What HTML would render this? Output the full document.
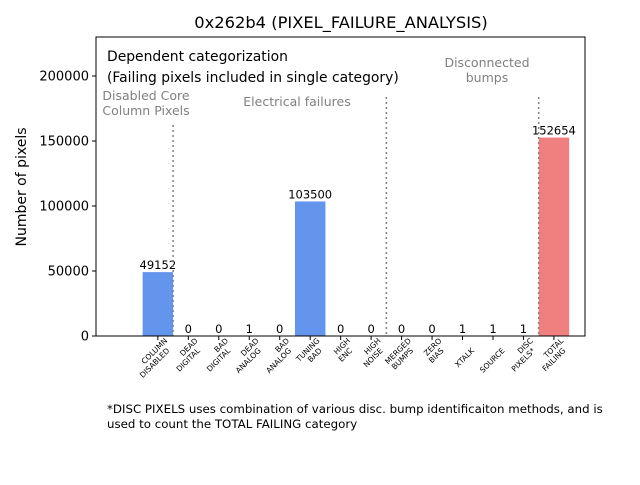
<!DOCTYPE html>
<html><head><meta charset="utf-8"><style>
body{margin:0;background:#fff;}
svg{font-family:"DejaVu Sans","Liberation Sans",sans-serif;}
</style></head><body>
<svg id="chart" width="640" height="480" viewBox="0 0 640 480">
<rect width="640" height="480" fill="#fff"/>
<text x="341" y="28" font-size="16.3" text-anchor="middle">0x262b4 (PIXEL_FAILURE_ANALYSIS)</text>
<g id="marks"></g>
<rect x="96" y="37" width="489" height="299" fill="none" stroke="#000" stroke-width="1"/>
<g id="yaxis"></g>
<g id="xaxis"></g>
<text transform="translate(26,187) rotate(-90)" font-size="14" text-anchor="middle">Number of pixels</text>
<text x="107" y="61" font-size="13.9">Dependent categorization</text>
<text x="107" y="82" font-size="13.9">(Failing pixels included in single category)</text>
<g font-size="12.5" fill="#808080" text-anchor="middle">
<text x="146" y="100">Disabled Core</text>
<text x="146" y="115">Column Pixels</text>
<text x="297" y="106">Electrical failures</text>
<text x="487" y="67">Disconnected</text>
<text x="487" y="82">bumps</text>
</g>
<text x="107" y="413" font-size="11.8">*DISC PIXELS uses combination of various disc. bump identificaiton methods, and is</text>
<text x="107" y="428" font-size="11.8">used to count the TOTAL FAILING category</text>
</svg>
<script>
const categories=[["COLUMN","DISABLED"],["DEAD","DIGITAL"],["BAD","DIGITAL"],["DEAD","ANALOG"],["BAD","ANALOG"],["TUNING","BAD"],["HIGH","ENC"],["HIGH","NOISE"],["MERGED","BUMPS"],["ZERO","BIAS"],["XTALK"],["SOURCE"],["DISC","PIXELS*"],["TOTAL","FAILING"]];
const values=[49152,0,0,1,0,103500,0,0,0,0,1,1,1,152654];
const yTicks=[0,50000,100000,150000,200000];
const separators=[0.5,7.5,12.5];
const ns="http://www.w3.org/2000/svg";
const L=96,R=585,T=37,B=336,xmin=-2.03,xmax=14.02,ymax=230000;
const xs=i=>L+(i-xmin)/(xmax-xmin)*(R-L);
const ys=v=>B-v/ymax*(B-T);
const unit=(R-L)/(xmax-xmin);
function mk(tag,attrs,parent){const e=document.createElementNS(ns,tag);for(const k in attrs)e.setAttribute(k,attrs[k]);parent.appendChild(e);return e;}
const marks=document.getElementById('marks'),ya=document.getElementById('yaxis'),xa=document.getElementById('xaxis');
values.forEach((v,i)=>{
 const r=mk('rect',{x:xs(i)-unit/2,y:ys(v),width:unit,height:B-ys(v),fill:i==values.length-1?'#F08080':'#6495ED'},marks);
 
 
 const t=mk('text',{x:xs(i),y:ys(v)-3,'font-size':11.5,'text-anchor':'middle'},marks);
 t.textContent=v;
 
 
});
const seTop=[125,97,97];
separators.forEach((s,k)=>{
 const l=mk('line',{x1:xs(s),x2:xs(s),y1:seTop[k],y2:B,stroke:'#808080','stroke-width':1.5,'stroke-dasharray':'2,3'},marks);
 
 
});
yTicks.forEach(v=>{
 mk('line',{x1:L-4,x2:L,y1:ys(v),y2:ys(v),stroke:'#000'},ya);
 const t=mk('text',{x:L-7,y:ys(v)+4.5,'font-size':13,'text-anchor':'end'},ya);
 t.textContent=v;
 
 
});
categories.forEach((c,i)=>{
 const x=xs(i);
 mk('line',{x1:x,x2:x,y1:B,y2:B+4,stroke:'#000'},xa);
 const g=mk('g',{transform:`translate(${x+10},${B+13}) rotate(-45)`},xa);
 
 
 c.forEach((w,j)=>{
  const k=j-c.length+1;
  const t=mk('text',{x:-k*5.5,y:k*8.5+3,'font-size':7.6,'text-anchor':'end'},g);
  t.textContent=w;
 });
});
</script>
</body></html>
